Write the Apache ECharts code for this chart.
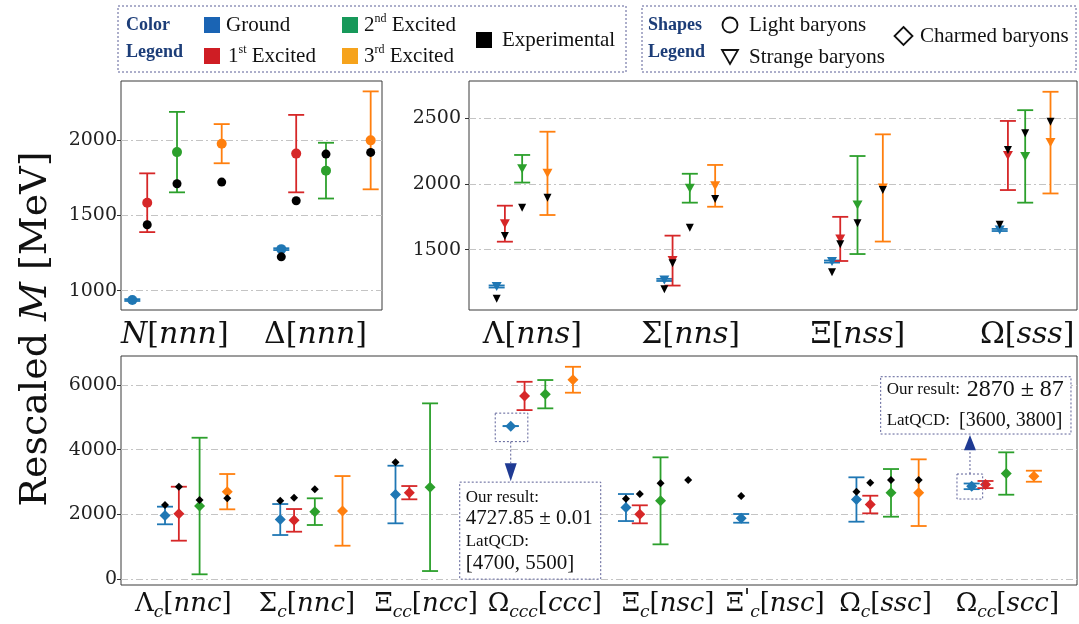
<!DOCTYPE html>
<html lang="en">
<head>
<meta charset="UTF-8">
<title>Rescaled baryon masses</title>
<script src="https://cdn.jsdelivr.net/npm/echarts@6/dist/echarts.min.js"></script>
<style>
  html, body { margin: 0; padding: 0; background: #fff; overflow: hidden; }
  #main { width: 1079px; height: 624px; }
</style>
</head>
<body>
<div id="main"></div>
<script>
    // tick labels of the three panels
    var lightLabels = ['N[nnn]', 'Δ[nnn]'];
    var strangeLabels = ['Λ[nns]', 'Σ[nns]', 'Ξ[nss]', 'Ω[sss]'];
    var charmLabels = ['Λ_c[nnc]', 'Σ_c[nnc]', 'Ξ_cc[ncc]', 'Ω_ccc[ccc]', 'Ξ_c[nsc]', 'Ξ′_c[nsc]', 'Ω_c[ssc]', 'Ω_cc[scc]'];
    var lightTicks = [1000, 1500, 2000];
    var strangeTicks = [1500, 2000, 2500];
    var charmTicks = [0, 2000, 4000, 6000];

    // one row per baryon: ground, 1st, 2nd, 3rd excited (MeV)
    var lightMass = [
        [938, 1584, 1920, 1976],
        [1276, 1910, 1797, 1998]
    ];
    var lightErr = [
        [6, 195, 267, 130],
        [6, 257, 185, 325]
    ];
    var lightExp = [
        [null, 1438, 1710, 1721],
        [1225, 1597, 1907, 1918]
    ];

    var strangeMass = [
        [1220, 1698, 2116, 2081],
        [1270, 1417, 1968, 1986],
        [1410, 1582, 1840, 1970],
        [1650, 2217, 2210, 2315]
    ];
    var strangeErr = [
        [8, 137, 105, 317],
        [8, 190, 110, 159],
        [8, 168, 373, 408],
        [8, 263, 352, 387]
    ];
    var strangeExp = [
        [1127, 1604, 1820, 1896],
        [1199, 1397, 1667, 1886],
        [1328, 1541, 1701, 1954],
        [1690, 2259, 2386, 2474]
    ];

    var charmMass = [
        [1970, 2025, 2262, 2705],
        [1845, 1819, 2088, 2112],
        [2617, 2674, 2843, null],
        [4728, 5660, 5714, 6160],
        [2215, 2006, 2422, null],
        [1881, null, null, null],
        [2463, 2308, 2668, 2674],
        [2870, 2925, 3265, 3182]
    ];
    var charmErr = [
        [272, 833, 2108, 545],
        [478, 350, 412, 1075],
        [889, 205, 2588, null],
        [0.01, 437, 437, 400],
        [417, 278, 1343, null],
        [134, null, null, null],
        [685, 272, 736, 1029],
        [87, 110, 654, 170]
    ];
    var charmExp = [
        [2293, 2858, 2447, 2500],
        [2427, 2518, 2777, null],
        [3610, null, null, null],
        [null, null, null, null],
        [2488, 2632, 2962, 3065],
        [2571, null, null, null],
        [2703, 2982, 3065, 3065],
        [null, null, null, null]
    ];

    var SERIF = 'DejaVu Serif';
    var TIMES = 'Liberation Serif';
    var stateColors = ['#1f77b4', '#d62728', '#2ca02c', '#ff7f0e'];
    var legendColors = ['#1a64b4', '#cf1d24', '#17995a', '#f6a31c'];
    var navy = '#1c3d78';
    var capHalf = 8;

    var panels = [
        {labels: lightLabels, mass: lightMass, err: lightErr, exp: lightExp, ticks: lightTicks,
         grid: {left: 121, top: 81, width: 261, height: 229}, x: [-0.076, 1.676], y: [872, 2392],
         labelAt: [0.285, 1.23], offs: [0, 0.1, 0.3, 0.6],
         symbol: 'circle', size: 10, expSize: 9, rotate: 0, font: 30, sub: 19, labelMargin: 6, tickMargin: 4},
        {labels: strangeLabels, mass: strangeMass, err: strangeErr, exp: strangeExp, ticks: strangeTicks,
         grid: {left: 469, top: 81, width: 608, height: 229}, x: [-0.165, 3.461], y: [1041, 2784],
         labelAt: [0.213, 1.157, 2.154, 3.164], offs: [0, 0.049, 0.152, 0.303],
         symbol: 'triangle', size: [10, 9], expSize: [8, 8], rotate: 180, font: 30, sub: 19, labelMargin: 6, tickMargin: 8},
        {labels: charmLabels, mass: charmMass, err: charmErr, exp: charmExp, ticks: charmTicks,
         grid: {left: 121, top: 356, width: 956, height: 229}, x: [-0.382, 7.914], y: [-176, 6893],
         labelAt: [0.159, 1.232, 2.267, 3.295, 4.366, 5.295, 6.252, 7.31], offs: [0, 0.12, 0.30, 0.54],
         symbol: 'diamond', size: 11, expSize: 8, rotate: 0, font: 26, sub: 17, labelMargin: 2, tickMargin: 4}
    ];

    function mathLabel(s) {
        var m = s.match(/^([^_\[]+)(?:_(\w+))?\[(\w+)\]$/);
        var sym = m[1], sub = m[2], arg = m[3];
        var prime = sym.indexOf('′') >= 0;
        sym = sym.replace('′', '');
        var out = sym === 'N' ? '{it|N}' : '{g|' + sym + '}';
        if (prime) out += '{pr|\'}';
        if (sub) out += '{sub|' + sub + '}';
        return out + '{g|[}{it|' + arg + '}{g|]}';
    }

    function richFor(size, subSize) {
        return {
            g: {fontFamily: SERIF, fontSize: size, lineHeight: size + 8, verticalAlign: 'middle', color: '#111'},
            it: {fontFamily: SERIF, fontStyle: 'italic', fontSize: size, lineHeight: size + 8, verticalAlign: 'middle', color: '#111'},
            sub: {fontFamily: SERIF, fontStyle: 'italic', fontSize: subSize, lineHeight: subSize, verticalAlign: 'bottom', color: '#111'},
            pr: {fontFamily: SERIF, fontSize: size - 4, lineHeight: size + 4, verticalAlign: 'top', color: '#111'}
        };
    }

    function errorBar(params, api) {
        var x = api.value(0), v = api.value(1), e = api.value(2);
        var top = api.coord([x, v + e]);
        var bot = api.coord([x, v - e]);
        var style = {stroke: api.visual('color'), lineWidth: 1.8};
        return {type: 'group', children: [
            {type: 'line', shape: {x1: top[0], y1: top[1], x2: bot[0], y2: bot[1]}, style: style},
            {type: 'line', shape: {x1: top[0] - capHalf, y1: top[1], x2: top[0] + capHalf, y2: top[1]}, style: style},
            {type: 'line', shape: {x1: bot[0] - capHalf, y1: bot[1], x2: bot[0] + capHalf, y2: bot[1]}, style: style}
        ]};
    }

    var grids = [], xAxes = [], yAxes = [], series = [];
    panels.forEach(function (p, pi) {
        grids.push({left: p.grid.left, top: p.grid.top, width: p.grid.width, height: p.grid.height,
            show: true, borderColor: '#3a3a3a', borderWidth: 1, backgroundColor: 'transparent'});
        xAxes.push({
            type: 'value', gridIndex: pi, min: p.x[0], max: p.x[1],
            axisLine: {show: false, onZero: false}, axisTick: {show: false}, splitLine: {show: false},
            axisLabel: {
                customValues: p.labelAt, margin: p.labelMargin, showMinLabel: true, showMaxLabel: true,
                formatter: function (v) {
                    var best = 0;
                    p.labelAt.forEach(function (a, i) { if (Math.abs(a - v) < Math.abs(p.labelAt[best] - v)) best = i; });
                    return mathLabel(p.labels[best]);
                },
                rich: richFor(p.font, p.sub)
            }
        });
        yAxes.push({
            type: 'value', gridIndex: pi, min: p.y[0], max: p.y[1],
            axisLine: {show: false, onZero: false},
            axisTick: {show: true, customValues: p.ticks, length: 4, lineStyle: {color: '#333'}},
            axisLabel: {customValues: p.ticks, margin: p.tickMargin, fontFamily: SERIF, fontSize: 19, color: '#222',
                formatter: function (v) { return String(v); }},
            splitLine: {show: true, lineStyle: {color: '#c4c4c4', width: 1, type: [7, 3, 2, 3]}}
        });
        for (var s = 0; s < 4; s++) {
            var pts = [];
            p.mass.forEach(function (row, i) {
                if (row[s] != null) pts.push([i + p.offs[s], row[s], p.err[i][s]]);
            });
            series.push({type: 'custom', xAxisIndex: pi, yAxisIndex: pi, renderItem: errorBar,
                itemStyle: {color: stateColors[s]}, data: pts, encode: {x: 0, y: 1}, z: 2, silent: true});
            series.push({type: 'scatter', xAxisIndex: pi, yAxisIndex: pi, symbol: p.symbol,
                symbolSize: p.size, symbolRotate: p.rotate, itemStyle: {color: stateColors[s], opacity: 1},
                data: pts, z: 3, silent: true});
        }
        var ex = [];
        p.exp.forEach(function (row, i) {
            row.forEach(function (v, s) { if (v != null) ex.push([i + p.offs[s], v]); });
        });
        series.push({type: 'scatter', xAxisIndex: pi, yAxisIndex: pi, symbol: p.symbol,
            symbolSize: p.expSize, symbolRotate: p.rotate, itemStyle: {color: '#000', opacity: 1},
            data: ex, z: 4, silent: true});
    });

    var chart = echarts.init(document.getElementById('main'));
    chart.setOption({
        animation: false,
        backgroundColor: '#fff',
        grid: grids,
        xAxis: xAxes,
        yAxis: yAxes,
        series: series
    });

    // ---- static graphics: legends + y title ----
    function text(x, y, str, size, opts) {
        opts = opts || {};
        return {type: 'text', x: x, y: y, z: 10, rotation: opts.rotation || 0,
            style: {text: str, fontFamily: opts.family || TIMES, fontSize: size, fontWeight: opts.weight || 'normal',
                fontStyle: opts.style || 'normal', fill: opts.fill || '#111',
                align: opts.align || 'left', verticalAlign: 'middle', rich: opts.rich}};
    }
    function sq(x, y, c) {
        return {type: 'rect', z: 10, shape: {x: x, y: y, width: 16, height: 16}, style: {fill: c}};
    }
    function dotted(x, y, w, h, fill) {
        return {type: 'rect', z: 9, shape: {x: x, y: y, width: w, height: h},
            style: {fill: fill || 'none', stroke: '#5b5f97', lineWidth: 1, lineDash: [2, 2]}};
    }
    var supRich = {
        t: {fontFamily: TIMES, fontSize: 21, lineHeight: 24, verticalAlign: 'middle', fill: '#111'},
        s: {fontFamily: TIMES, fontSize: 12, lineHeight: 24, verticalAlign: 'top', fill: '#111', padding: [0, 0, 10, 0]}
    };
    function ordinal(n, suf) { return '{t|' + n + '}{s|' + suf + '}{t| Excited}'; }

    var g = [
        dotted(118, 6, 508, 66, '#fff'),
        text(126, 25, 'Color', 18, {weight: 'bold', fill: navy}),
        text(126, 52, 'Legend', 18, {weight: 'bold', fill: navy}),
        sq(204, 17, legendColors[0]), text(226, 25, 'Ground', 21),
        sq(204, 48, legendColors[1]), text(228, 56, ordinal(1, 'st'), 21, {rich: supRich}),
        sq(342, 17, legendColors[2]), text(364, 25, ordinal(2, 'nd'), 21, {rich: supRich}),
        sq(342, 48, legendColors[3]), text(364, 56, ordinal(3, 'rd'), 21, {rich: supRich}),
        sq(476, 32, '#000'), text(502, 40, 'Experimental', 21),

        dotted(642, 6, 434, 66, '#fff'),
        text(648, 25, 'Shapes', 18, {weight: 'bold', fill: navy}),
        text(648, 52, 'Legend', 18, {weight: 'bold', fill: navy}),
        {type: 'circle', z: 10, shape: {cx: 730, cy: 25, r: 7.5}, style: {fill: 'none', stroke: '#111', lineWidth: 1.8}},
        text(749, 25, 'Light baryons', 21),
        {type: 'polygon', z: 10, shape: {points: [[722, 50], [738, 50], [730, 64]]}, style: {fill: 'none', stroke: '#111', lineWidth: 1.8}},
        text(749, 57, 'Strange baryons', 21),
        {type: 'polygon', z: 10, shape: {points: [[903.5, 27], [912.5, 36], [903.5, 45], [894.5, 36]]}, style: {fill: 'none', stroke: '#111', lineWidth: 1.8}},
        text(920, 36, 'Charmed baryons', 21),

        text(36, 329, '{r|Rescaled }{i|M}{r| [MeV]}', 38, {rotation: Math.PI / 2, align: 'center', rich: {
            r: {fontFamily: SERIF, fontSize: 38, fill: '#111'},
            i: {fontFamily: SERIF, fontSize: 38, fontStyle: 'italic', fill: '#111'}
        }})
    ];

    // ---- annotations anchored on the two ground-state points ----
    var c = panels[2];
    var pA = chart.convertToPixel({gridIndex: 2}, [3 + c.offs[0], charmMass[3][0]]);
    var pB = chart.convertToPixel({gridIndex: 2}, [7 + c.offs[0], charmMass[7][0]]);
    var arrowCol = '#1f3a93';
    var dashLine = {stroke: '#5b5f97', lineWidth: 1, lineDash: [2, 2]};

    g.push(
        dotted(pA[0] - 15.5, pA[1] - 13, 32.6, 28.5),
        {type: 'line', z: 9, shape: {x1: pA[0], y1: pA[1] + 15.5, x2: pA[0], y2: pA[1] + 37}, style: dashLine},
        {type: 'polygon', z: 10, shape: {points: [[pA[0] - 6, pA[1] + 37], [pA[0] + 6, pA[1] + 37], [pA[0], pA[1] + 55]]}, style: {fill: arrowCol}},
        dotted(pA[0] - 51, pA[1] + 56, 141, 97, '#fff'),
        text(pA[0] - 45, pA[1] + 71, 'Our result:', 17),
        text(pA[0] - 45, pA[1] + 92.5, '4727.85 ± 0.01', 21),
        text(pA[0] - 45, pA[1] + 115, 'LatQCD:', 17),
        text(pA[0] - 45, pA[1] + 137, '[4700, 5500]', 21),

        dotted(pB[0] - 14.7, pB[1] - 12.3, 25.7, 25),
        {type: 'line', z: 9, shape: {x1: pB[0] - 1.7, y1: pB[1] - 12.3, x2: pB[0] - 1.7, y2: pB[1] - 36}, style: dashLine},
        {type: 'polygon', z: 10, shape: {points: [[pB[0] - 7.7, pB[1] - 36], [pB[0] + 4.3, pB[1] - 36], [pB[0] - 1.7, pB[1] - 51.3]]}, style: {fill: arrowCol}},
        dotted(pB[0] - 91, pB[1] - 109.6, 190.3, 57.3, '#fff'),
        text(pB[0] - 85, pB[1] - 97, 'Our result:', 17),
        text(pB[0] - 5, pB[1] - 97, '2870 ± 87', 24),
        text(pB[0] - 85, pB[1] - 65.6, 'LatQCD:', 17),
        text(pB[0] - 12.7, pB[1] - 65.6, '[3600, 3800]', 20)
    );

    chart.setOption({graphic: g});
</script>
</body>
</html>
